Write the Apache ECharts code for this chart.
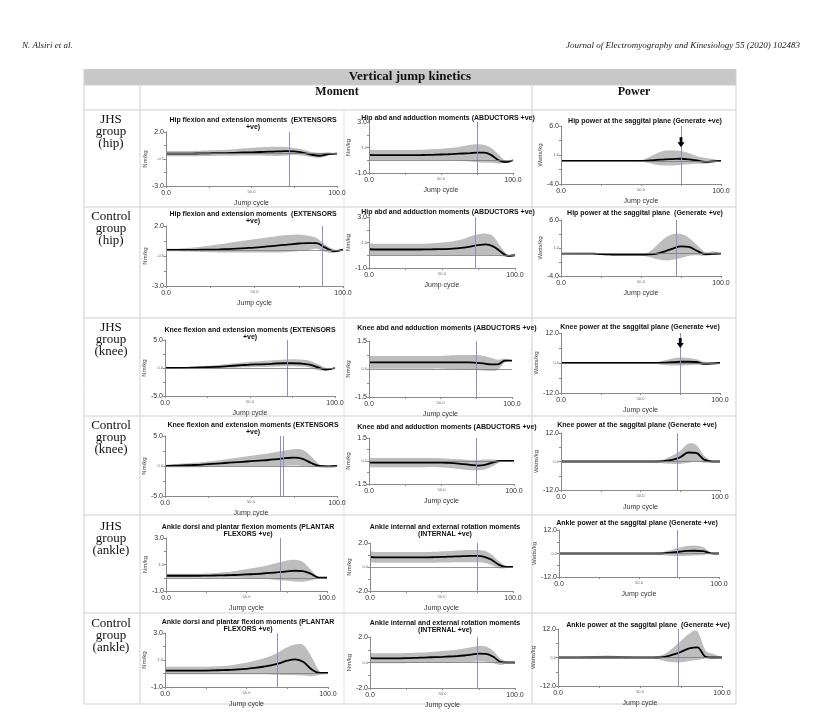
<!DOCTYPE html>
<html><head><meta charset="utf-8">
<script src="https://cdn.jsdelivr.net/npm/echarts@6/dist/echarts.min.js"></script>
<style>html,body{margin:0;padding:0;background:#fff}#c{width:832px;height:718px}</style>
</head><body><div id="c"></div>
<script>
// ---------- DATA ----------
const jumpCycle = [0,5,10,15,20,25,30,35,40,45,50,55,60,65,70,75,80,85,90,95,100];
const xTickLabels = ['0.0','50.0','100.0'];

const hipMomRange = [-3, 2];
const hipAbdRange = [-1, 3];
const hipPowRange = [-4, 6];
const kneeMomRange = [-5, 5];
const kneeAbdRange = [-1.5, 1.5];
const kneePowRange = [-12, 12];
const ankMomRange = [-1, 3];
const ankRotRange = [-2, 2];
const ankPowRange = [-12, 12];

// JHS hip moment
const jhsHipMomMean = [0,0,0,0,0.02,0.03,0.05,0.05,0.07,0.1,0.12,0.15,0.18,0.2,0.22,0.2,0.1,-0.1,-0.2,-0.05,0];
const jhsHipMomHi   = [0.25,0.25,0.25,0.25,0.27,0.3,0.32,0.35,0.4,0.48,0.53,0.58,0.62,0.64,0.62,0.52,0.38,0.15,0.08,0.12,0];
const jhsHipMomLo   = [-0.25,-0.25,-0.25,-0.25,-0.23,-0.22,-0.21,-0.2,-0.19,-0.18,-0.18,-0.18,-0.2,-0.22,-0.18,-0.12,-0.18,-0.32,-0.38,-0.18,0];
// Control hip moment
const ctlHipMomMean = [0,0,0,0.01,0.02,0.03,0.05,0.08,0.12,0.16,0.2,0.26,0.33,0.4,0.47,0.54,0.58,0.57,0.2,-0.1,0.03];
const ctlHipMomHi   = [0.1,0.1,0.15,0.2,0.28,0.37,0.47,0.58,0.7,0.8,0.9,1.0,1.1,1.2,1.26,1.28,1.2,1.0,0.45,0.05,0.05];
const ctlHipMomLo   = [-0.1,-0.1,-0.12,-0.14,-0.16,-0.18,-0.2,-0.2,-0.2,-0.2,-0.2,-0.2,-0.2,-0.2,-0.15,-0.1,-0.02,0.1,-0.15,-0.25,-0.02];
// JHS hip abd
const jhsHipAbdMean = [0.42,0.4,0.4,0.4,0.4,0.4,0.4,0.4,0.42,0.43,0.45,0.47,0.5,0.53,0.56,0.6,0.6,0.4,0.0,-0.15,0.0];
const jhsHipAbdHi   = [0.85,0.8,0.8,0.8,0.8,0.8,0.8,0.82,0.84,0.87,0.9,0.95,1.0,1.1,1.2,1.25,1.2,0.95,0.45,-0.05,0.05];
const jhsHipAbdLo   = [0.0,0.02,0.02,0.02,0.02,0.02,0.02,0.02,0.02,0.02,0.02,0.0,0.0,-0.05,-0.1,-0.15,-0.2,-0.2,-0.25,-0.2,-0.05];
// Control hip abd
const ctlHipAbdMean = [0.47,0.45,0.45,0.45,0.45,0.45,0.45,0.45,0.46,0.47,0.48,0.5,0.54,0.6,0.7,0.8,0.85,0.7,0.3,-0.05,0.0];
const ctlHipAbdHi   = [0.93,0.9,0.9,0.9,0.9,0.9,0.9,0.9,0.92,0.95,1.0,1.05,1.15,1.3,1.5,1.65,1.7,1.5,0.7,0.05,0.05];
const ctlHipAbdLo   = [0,0,0,0,0,0,0,0,0,0,0,0,0,0,0,0.02,0.02,0,-0.05,-0.12,-0.05];
// JHS hip power
const jhsHipPowMean = [0,0,0,0,0,0,0,0,0,0,0,0.05,0.15,0.25,0.3,0.35,0.25,0.05,-0.2,-0.1,0];
const jhsHipPowHi   = [0,0,0,0,0,0,0,0,0.02,0.05,0.1,0.6,1.3,1.75,1.8,1.7,1.3,0.8,0.5,0.3,0];
const jhsHipPowLo   = [0,0,0,0,0,0,0,0,-0.02,-0.05,-0.1,-0.4,-0.7,-0.8,-0.8,-0.7,-0.6,-0.5,-0.5,-0.3,0];
// Control hip power
const ctlHipPowMean = [0,0,0,0,0,-0.1,-0.15,-0.2,-0.2,-0.2,-0.2,-0.15,0,0.4,0.9,1.3,1.2,0.5,-0.1,-0.05,0];
const ctlHipPowHi   = [0,0.05,0.1,0.1,0.1,0.05,0,-0.05,-0.05,-0.05,-0.05,0.3,1.5,2.8,3.5,3.5,2.8,1.5,0.3,0.4,0];
const ctlHipPowLo   = [0,-0.05,-0.1,-0.1,-0.15,-0.25,-0.3,-0.35,-0.35,-0.35,-0.35,-0.6,-1.0,-1.2,-1.1,-0.8,-0.4,-0.3,-0.4,-0.2,0];
// JHS knee moment
const jhsKneeMomMean = [0,0,0,0.05,0.1,0.15,0.2,0.3,0.4,0.5,0.6,0.65,0.7,0.8,0.85,0.85,0.8,0.6,0.1,-0.3,0];
const jhsKneeMomHi   = [0,0.05,0.1,0.2,0.3,0.4,0.5,0.65,0.8,0.95,1.1,1.2,1.3,1.4,1.5,1.55,1.5,1.3,0.7,0,0];
const jhsKneeMomLo   = [0,-0.05,-0.1,-0.1,-0.1,-0.1,-0.1,0,0.05,0.1,0.15,0.2,0.2,0.25,0.3,0.3,0.25,0.1,-0.4,-0.4,0];
// Control knee moment
const ctlKneeMomMean = [0,0.05,0.1,0.15,0.2,0.3,0.4,0.5,0.6,0.7,0.8,0.9,1.0,1.15,1.3,1.4,1.2,0.5,0,-0.05,0];
const ctlKneeMomHi   = [0.2,0.3,0.4,0.5,0.6,0.75,0.9,1.1,1.3,1.5,1.7,1.9,2.1,2.35,2.6,2.8,2.7,1.6,0.2,0.05,0];
const ctlKneeMomLo   = [-0.2,-0.2,-0.2,-0.2,-0.2,-0.15,-0.1,-0.05,0,0,0,0,0,0,0.05,0.1,0,-0.2,-0.2,-0.1,0];
// JHS knee abd
const jhsKneeAbdMean = [0.35,0.35,0.35,0.35,0.35,0.35,0.35,0.35,0.35,0.35,0.35,0.35,0.35,0.35,0.35,0.33,0.3,0.25,0.25,0.45,0.45];
const jhsKneeAbdHi   = [0.7,0.7,0.7,0.7,0.7,0.7,0.7,0.7,0.7,0.7,0.7,0.72,0.74,0.75,0.75,0.75,0.7,0.6,0.5,0.55,0.45];
const jhsKneeAbdLo   = [0.02,0.02,0.02,0.02,0.02,0.02,0.02,0.02,0.02,0.02,0.02,0.0,-0.02,-0.04,-0.05,-0.06,-0.08,-0.1,-0.05,0.35,0.45];
// Control knee abd
const ctlKneeAbdMean = [-0.1,-0.1,-0.1,-0.1,-0.1,-0.1,-0.1,-0.1,-0.1,-0.1,-0.1,-0.12,-0.15,-0.2,-0.25,-0.3,-0.25,-0.1,0,0,0];
const ctlKneeAbdHi   = [0.2,0.2,0.2,0.2,0.2,0.2,0.2,0.2,0.2,0.2,0.18,0.15,0.12,0.1,0.05,0.05,0.1,0.1,0.05,0.02,0];
const ctlKneeAbdLo   = [-0.4,-0.4,-0.4,-0.4,-0.4,-0.4,-0.4,-0.4,-0.4,-0.4,-0.42,-0.45,-0.5,-0.55,-0.6,-0.6,-0.55,-0.35,-0.1,-0.05,0];
// JHS knee power
const jhsKneePowMean = [0,0,0,0,0,0,0,0,0,0,0,0,0,0.1,0.3,0.5,0.5,0.4,-0.3,-0.2,0];
const jhsKneePowHi   = [0,0,0,0,0,0,0,0,0,0,0,0.1,0.4,1.0,1.8,2.2,2.0,1.5,0.5,0.2,0];
const jhsKneePowLo   = [0,0,0,0,0,0,0,0,0,0,0,-0.1,-0.4,-0.8,-1.0,-1.0,-0.9,-0.7,-0.8,-0.4,0];
// Control knee power
const ctlKneePowMean = [0,0,0,0,0,0,0,0,0,0,0,0,0,0.2,0.7,1.8,3.8,3.6,0.8,0,0];
const ctlKneePowHi   = [0,0,0,0,0,0,0,0,0,0,0,0.1,0.4,1.0,2.5,4.5,7.5,7.0,2.5,0.3,0];
const ctlKneePowLo   = [0,0,0,0,0,0,0,0,0,0,0,-0.1,-0.4,-0.8,-1.0,-1.0,-0.5,0,-0.5,-0.3,0];
// JHS ankle moment
const jhsAnkMomMean = [0.15,0.15,0.15,0.15,0.15,0.16,0.17,0.18,0.2,0.22,0.25,0.28,0.32,0.37,0.42,0.48,0.53,0.5,0.3,0,0];
const jhsAnkMomHi   = [0.3,0.3,0.3,0.3,0.3,0.32,0.35,0.4,0.45,0.55,0.65,0.75,0.85,1.0,1.15,1.3,1.35,1.2,0.6,0,0];
const jhsAnkMomLo   = [0,0,0,0,0,0,0,0,0,0,-0.02,-0.05,-0.08,-0.12,-0.18,-0.22,-0.28,-0.3,-0.2,-0.05,0];
// Control ankle moment
const ctlAnkMomMean = [0.22,0.22,0.22,0.22,0.22,0.22,0.23,0.25,0.27,0.3,0.35,0.42,0.5,0.6,0.75,0.95,1.05,0.85,0.3,0.05,0.05];
const ctlAnkMomHi   = [0.5,0.5,0.5,0.5,0.5,0.5,0.52,0.55,0.6,0.7,0.8,0.95,1.1,1.3,1.6,1.95,2.15,2.1,1.2,0.15,0.1];
const ctlAnkMomLo   = [-0.05,-0.05,-0.05,-0.05,-0.05,-0.05,-0.05,-0.05,-0.05,-0.05,-0.05,-0.05,-0.05,-0.08,-0.1,-0.12,-0.12,-0.15,-0.2,-0.1,-0.05];
// JHS ankle rotation
const jhsAnkRotMean = [0.85,0.8,0.8,0.8,0.8,0.8,0.8,0.8,0.8,0.82,0.84,0.86,0.88,0.9,0.92,0.92,0.85,0.6,0.2,0,0];
const jhsAnkRotHi   = [1.3,1.25,1.25,1.25,1.25,1.25,1.25,1.25,1.25,1.27,1.3,1.33,1.36,1.4,1.42,1.42,1.35,1.05,0.5,0.1,0];
const jhsAnkRotLo   = [0.4,0.35,0.35,0.35,0.35,0.35,0.35,0.35,0.35,0.36,0.37,0.38,0.4,0.4,0.4,0.4,0.35,0.15,-0.1,-0.1,0];
// Control ankle rotation
const ctlAnkRotMean = [0.35,0.33,0.33,0.33,0.33,0.34,0.36,0.38,0.4,0.42,0.44,0.47,0.5,0.55,0.62,0.7,0.68,0.45,0.05,0,0];
const ctlAnkRotHi   = [0.75,0.72,0.72,0.72,0.72,0.74,0.76,0.78,0.8,0.85,0.9,0.95,1.0,1.1,1.2,1.3,1.25,0.9,0.3,0.05,0];
const ctlAnkRotLo   = [-0.05,-0.06,-0.06,-0.06,-0.06,-0.05,-0.04,-0.03,-0.02,-0.02,-0.02,-0.02,0,0.02,0.04,0.08,0.05,-0.05,-0.2,-0.05,0];
// JHS ankle power
const jhsAnkPowMean = [0,0,0,0,0,0,0,0,0,0,0,0,0,0.1,0.4,0.9,1.3,1.4,1.2,0.1,0];
const jhsAnkPowHi   = [0,0,0,0,0,0,0,0,0,0,0,0.1,0.3,0.8,1.8,3.0,3.8,4.0,3.3,0.5,0];
const jhsAnkPowLo   = [0,0,0,0,0,0,0,0,0,0,0,-0.1,-0.3,-0.8,-1.2,-1.3,-1.2,-1.0,-0.8,-0.2,0];
// Control ankle power
const ctlAnkPowMean = [0,0,0,0,0,0,0,0,0,0,0,0,0,0.3,1.2,2.4,3.8,4.3,0.3,0,0];
const ctlAnkPowHi   = [0,0,0,0.3,0.5,0.7,0.8,0.7,0.5,0.3,0.1,0,0.5,1.5,4,7,10,11,3,1.5,0];
const ctlAnkPowLo   = [0,0,0,-0.1,-0.1,-0.1,-0.1,-0.1,-0.1,0,0,-0.2,-0.5,-1.5,-2,-2,-1.5,-1,-0.5,-0.3,0];

// vertical event markers (% of jump cycle)
const hipMarkers   = {jhsMom:[72], ctlMom:[88.5], jhsAbd:[75], ctlAbd:[72.5], jhsPow:[75], ctlPow:[72]};
const kneeMarkers  = {jhsMom:[72], ctlMom:[67,69], jhsAbd:[75], ctlAbd:[74], jhsPow:[75], ctlPow:[73]};
const ankleMarkers = {jhsMom:[71], ctlMom:[69], jhsRot:[75], ctlRot:[74], jhsPow:[74], ctlPow:[73.5]};
// arrows [x, y]
const jhsHipPowArrow = [75, 3.2];
const jhsKneePowArrow = [75, 8];

// ---------- LAYOUT / CONFIG ----------
const FONT = 'Liberation Sans';
const panels = [
  {mean:jhsHipMomMean, hi:jhsHipMomHi, lo:jhsHipMomLo, range:hipMomRange, marks:hipMarkers.jhsMom, yName:'Nm/kg',
   box:[166,132,171,54], title:'Hip flexion and extension moments  (EXTENSORS\n+ve)', tx:253, ty:116, gap:16},
  {mean:jhsHipAbdMean, hi:jhsHipAbdHi, lo:jhsHipAbdLo, range:hipAbdRange, marks:hipMarkers.jhsAbd, yName:'Nm/kg',
   box:[369,122,144,51], title:'Hip abd and adduction moments (ABDUCTORS +ve)', tx:448, ty:114, gap:11},
  {mean:jhsHipPowMean, hi:jhsHipPowHi, lo:jhsHipPowLo, range:hipPowRange, marks:hipMarkers.jhsPow, yName:'Watts/kg',
   box:[561,126,160,58], title:'Hip power at the saggital plane (Generate +ve)', tx:645, ty:117, gap:16, arrow:jhsHipPowArrow},

  {mean:ctlHipMomMean, hi:ctlHipMomHi, lo:ctlHipMomLo, range:hipMomRange, marks:hipMarkers.ctlMom, yName:'Nm/kg',
   box:[166,226,177,60], title:'Hip flexion and extension moments  (EXTENSORS\n+ve)', tx:253, ty:210, gap:16},
  {mean:ctlHipAbdMean, hi:ctlHipAbdHi, lo:ctlHipAbdLo, range:hipAbdRange, marks:hipMarkers.ctlAbd, yName:'Nm/kg',
   box:[369,217,146,51], title:'Hip abd and adduction moments (ABDUCTORS +ve)', tx:448, ty:208, gap:11},
  {mean:ctlHipPowMean, hi:ctlHipPowHi, lo:ctlHipPowLo, range:hipPowRange, marks:hipMarkers.ctlPow, yName:'Watts/kg',
   box:[561,220,160,56], title:'Hip power at the saggital plane  (Generate +ve)', tx:645, ty:209, gap:16},

  {mean:jhsKneeMomMean, hi:jhsKneeMomHi, lo:jhsKneeMomLo, range:kneeMomRange, marks:kneeMarkers.jhsMom, yName:'Nm/kg',
   box:[165,340,170,56], title:'Knee flexion and extension moments (EXTENSORS\n+ve)', tx:250, ty:326, gap:16},
  {mean:jhsKneeAbdMean, hi:jhsKneeAbdHi, lo:jhsKneeAbdLo, range:kneeAbdRange, marks:kneeMarkers.jhsAbd, yName:'Nm/kg',
   box:[369,341,143,56], title:'Knee abd and adduction moments (ABDUCTORS +ve)', tx:447, ty:324, gap:11},
  {mean:jhsKneePowMean, hi:jhsKneePowHi, lo:jhsKneePowLo, range:kneePowRange, marks:kneeMarkers.jhsPow, yName:'Watts/kg',
   box:[561,333,159,60], title:'Knee power at the saggital plane (Generate +ve)', tx:640, ty:323, gap:18, arrow:jhsKneePowArrow},

  {mean:ctlKneeMomMean, hi:ctlKneeMomHi, lo:ctlKneeMomLo, range:kneeMomRange, marks:kneeMarkers.ctlMom, yName:'Nm/kg',
   box:[165,436,172,60], title:'Knee flexion and extension moments (EXTENSORS\n+ve)', tx:253, ty:421, gap:16},
  {mean:ctlKneeAbdMean, hi:ctlKneeAbdHi, lo:ctlKneeAbdLo, range:kneeAbdRange, marks:kneeMarkers.ctlAbd, yName:'Nm/kg',
   box:[369,438,145,46], title:'Knee abd and adduction moments (ABDUCTORS +ve)', tx:447, ty:423, gap:11},
  {mean:ctlKneePowMean, hi:ctlKneePowHi, lo:ctlKneePowLo, range:kneePowRange, marks:kneeMarkers.ctlPow, yName:'Watts/kg',
   box:[561,433,159,57], title:'Knee power at the saggital plane (Generate +ve)', tx:637, ty:421, gap:18},

  {mean:jhsAnkMomMean, hi:jhsAnkMomHi, lo:jhsAnkMomLo, range:ankMomRange, marks:ankleMarkers.jhsMom, yName:'Nm/kg',
   box:[166,538,161,53], title:'Ankle dorsi and plantar flexion moments (PLANTAR\nFLEXORS +ve)', tx:248, ty:523, gap:16},
  {mean:jhsAnkRotMean, hi:jhsAnkRotHi, lo:jhsAnkRotLo, range:ankRotRange, marks:ankleMarkers.jhsRot, yName:'Nm/kg',
   box:[370,543,143,48], title:'Ankle internal and external rotation moments\n(INTERNAL +ve)', tx:445, ty:523, gap:12},
  {mean:jhsAnkPowMean, hi:jhsAnkPowHi, lo:jhsAnkPowLo, range:ankPowRange, marks:ankleMarkers.jhsPow, yName:'Watts/kg',
   box:[559,530,160,47], title:'Ankle power at the saggital plane (Generate +ve)', tx:637, ty:519, gap:18},

  {mean:ctlAnkMomMean, hi:ctlAnkMomHi, lo:ctlAnkMomLo, range:ankMomRange, marks:ankleMarkers.ctlMom, yName:'Nm/kg',
   box:[165,633,163,54], title:'Ankle dorsi and plantar flexion moments (PLANTAR\nFLEXORS +ve)', tx:248, ty:618, gap:16},
  {mean:ctlAnkRotMean, hi:ctlAnkRotHi, lo:ctlAnkRotLo, range:ankRotRange, marks:ankleMarkers.ctlRot, yName:'Nm/kg',
   box:[370,637,145,51], title:'Ankle internal and external rotation moments\n(INTERNAL +ve)', tx:445, ty:619, gap:12},
  {mean:ctlAnkPowMean, hi:ctlAnkPowHi, lo:ctlAnkPowLo, range:ankPowRange, marks:ankleMarkers.ctlPow, yName:'Watts/kg',
   box:[558,629,164,57], title:'Ankle power at the saggital plane  (Generate +ve)', tx:648, ty:621, gap:18}
];

// Catmull-Rom sampling of pixel points (rendering only)
function smoothPts(pts) {
  const out = [];
  const n = pts.length;
  for (let i = 0; i < n - 1; i++) {
    const p0 = pts[Math.max(i - 1, 0)], p1 = pts[i], p2 = pts[i + 1], p3 = pts[Math.min(i + 2, n - 1)];
    for (let s = 0; s < 8; s++) {
      const t = s / 8, t2 = t * t, t3 = t2 * t;
      const f = (a, b, c, d) => 0.5 * ((2 * b) + (-a + c) * t + (2 * a - 5 * b + 4 * c - d) * t2 + (-a + 3 * b - 3 * c + d) * t3);
      out.push([f(p0[0], p1[0], p2[0], p3[0]), f(p0[1], p1[1], p2[1], p3[1])]);
    }
  }
  out.push(pts[n - 1]);
  return out;
}

const AXIS_COLOR = '#8a8a8a';
const grids = [], xAxes = [], yAxes = [], series = [], graphics = [];

panels.forEach((p, i) => {
  const [ymin, ymax] = p.range;
  const ymid = (ymin + ymax) / 2;
  const q = (ymax - ymin) / 4;
  grids.push({left:p.box[0], top:p.box[1], width:p.box[2], height:p.box[3], containLabel:false});
  xAxes.push({
    type:'value', gridIndex:i, min:0, max:100, z:5,
    axisLine:{onZero:false, lineStyle:{color:AXIS_COLOR, width:1}},
    axisTick:{show:true, customValues:[0,25,50,75,100], length:2, lineStyle:{color:AXIS_COLOR}},
    axisLabel:{customValues:[0,50,100], margin:4, fontSize:7, fontFamily:FONT, color:'#333',
      formatter: v => v === 50 ? '{s|' + xTickLabels[1] + '}' : (v === 0 ? xTickLabels[0] : xTickLabels[2]),
      rich:{s:{fontSize:4, fontFamily:FONT, color:'#666'}}},
    splitLine:{show:false},
    name:'Jump cycle', nameLocation:'middle', nameGap:14,
    nameTextStyle:{fontSize:7, fontFamily:FONT, color:'#333'}
  });
  yAxes.push({
    type:'value', gridIndex:i, min:ymin, max:ymax, z:5,
    axisLine:{show:true, lineStyle:{color:AXIS_COLOR, width:1}},
    axisTick:{show:true, customValues:[ymin, ymin+q, ymid, ymid+q, ymax], length:2, lineStyle:{color:AXIS_COLOR}},
    axisLabel:{customValues:[ymin, ymid, ymax], margin:2, fontSize:7, fontFamily:FONT, color:'#333',
      formatter: v => Math.abs(v - ymid) < 1e-9 ? '{s|' + v.toFixed(1) + '}' : v.toFixed(1),
      rich:{s:{fontSize:4, fontFamily:FONT, color:'#666'}}},
    splitLine:{show:false},
    name:p.yName, nameLocation:'middle', nameGap:p.gap, nameRotate:90,
    nameTextStyle:{fontSize:6, fontFamily:FONT, color:'#444'}
  });
  // SD band
  series.push({
    type:'custom', xAxisIndex:i, yAxisIndex:i, coordinateSystem:'cartesian2d', clip:true, silent:true, z:1,
    data: jumpCycle.map((x, k) => [x, p.lo[k], p.hi[k]]),
    renderItem: (params, api) => {
      if (params.dataIndex !== 0) return null;
      const up = smoothPts(jumpCycle.map((x, k) => api.coord([x, p.hi[k]])));
      const dn = smoothPts(jumpCycle.map((x, k) => api.coord([x, p.lo[k]]))).reverse();
      return {type:'polygon', shape:{points: up.concat(dn)}, style:{fill:'#bdbdbd', stroke:null}};
    }
  });
  const ml = p.marks.map(m => ({xAxis:m, lineStyle:{color:'#8f8fc6', width:1, type:'solid'}}));
  ml.push({yAxis:0, lineStyle:{color:'#7a7a7a', width:0.8, type:'solid'}});
  const s = {
    type:'line', xAxisIndex:i, yAxisIndex:i,
    data: jumpCycle.map((x, k) => [x, p.mean[k]]),
    symbol:'none', smooth:0.35, lineStyle:{color:'#000', width:1.8}, silent:true, z:3,
    markLine:{silent:true, symbol:['none','none'], label:{show:false}, data:ml, animation:false}
  };
  if (p.arrow) {
    s.markPoint = {silent:true, animation:false, data:[{coord:p.arrow,
      symbol:'path://M3,0 L7,0 L7,6 L10,6 L5,12 L0,6 L3,6 Z', symbolSize:[7,10],
      itemStyle:{color:'#000'}, label:{show:false}}]};
  }
  series.push(s);
  graphics.push({type:'text', x:p.tx, y:p.ty, z:10, style:{text:p.title, textAlign:'center', textVerticalAlign:'top',
    font:'bold 7px "Liberation Sans"', lineHeight:7.5, fill:'#111'}});
});

// ---------- TABLE FRAME ----------
const L = 84, R = 736, C1 = 140, C2 = 532, Cm = 344, TOP = 69, HB = 85, BOT = 704;
const rowLines = [110, 207, 318, 416, 515, 613];
const border = '#cfcfcf';
graphics.push({type:'rect', shape:{x:L, y:TOP, width:R-L, height:HB-TOP}, style:{fill:'#c8c8c8'}, z:0});
[HB, ...rowLines, BOT].forEach(y => graphics.push({type:'line', shape:{x1:L, y1:y, x2:R, y2:y}, style:{stroke:border, lineWidth:1}, z:0}));
[[L,TOP],[R,TOP],[C1,HB],[C2,HB]].forEach(([x,y0]) => graphics.push({type:'line', shape:{x1:x, y1:y0, x2:x, y2:BOT}, style:{stroke:border, lineWidth:1}, z:0}));
graphics.push({type:'line', shape:{x1:Cm, y1:rowLines[0], x2:Cm, y2:BOT}, style:{stroke:'#e2e2e2', lineWidth:1}, z:0});

graphics.push({type:'text', x:22, y:46, style:{text:'N. Alsiri et al.', font:'italic 9px "Liberation Serif"', textVerticalAlign:'middle', fill:'#222'}});
graphics.push({type:'text', x:800, y:46, style:{text:'Journal of Electromyography and Kinesiology 55 (2020) 102483', font:'italic 9px "Liberation Serif"', textAlign:'right', textVerticalAlign:'middle', fill:'#222'}});
graphics.push({type:'text', x:410, y:77, style:{text:'Vertical jump kinetics', font:'bold 13px "Liberation Serif"', textAlign:'center', textVerticalAlign:'middle', fill:'#111'}});
graphics.push({type:'text', x:337, y:92, style:{text:'Moment', font:'bold 12px "Liberation Serif"', textAlign:'center', textVerticalAlign:'middle', fill:'#111'}});
graphics.push({type:'text', x:634, y:92, style:{text:'Power', font:'bold 12px "Liberation Serif"', textAlign:'center', textVerticalAlign:'middle', fill:'#111'}});

const rowLabels = ['JHS\ngroup\n(hip)','Control\ngroup\n(hip)','JHS\ngroup\n(knee)','Control\ngroup\n(knee)','JHS\ngroup\n(ankle)','Control\ngroup\n(ankle)'];
const rowLabelTop = [114, 211, 322, 420, 521, 618];
rowLabels.forEach((t, i) => graphics.push({type:'text', x:111, y:rowLabelTop[i], style:{text:t, font:'13px "Liberation Serif"', lineHeight:12, textAlign:'center', textVerticalAlign:'top', fill:'#111'}}));

const chart = echarts.init(document.getElementById('c'));
chart.setOption({
  backgroundColor:'#fff', animation:false,
  grid:grids, xAxis:xAxes, yAxis:yAxes, series:series, graphic:graphics
});
</script></body></html>
